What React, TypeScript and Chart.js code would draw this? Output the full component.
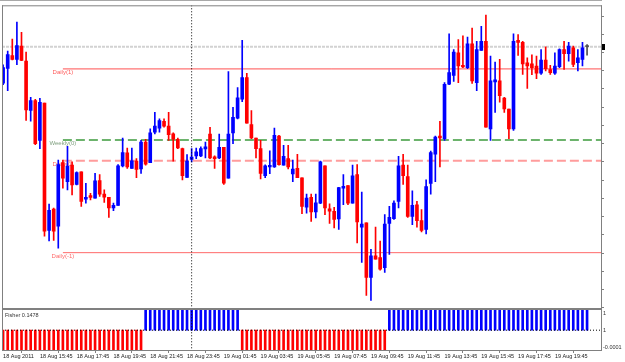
import React, { useEffect, useRef } from 'react';
import { Chart, registerables } from 'chart.js';

Chart.register(...registerables);

// ---------- data ----------
const timeLabels = [
  '18 Aug 2011', '18 Aug 15:45', '18 Aug 17:45', '18 Aug 19:45', '18 Aug 21:45', '18 Aug 23:45',
  '19 Aug 01:45', '19 Aug 03:45', '19 Aug 05:45', '19 Aug 07:45', '19 Aug 09:45', '19 Aug 11:45',
  '19 Aug 13:45', '19 Aug 15:45', '19 Aug 17:45', '19 Aug 19:45',
];
const timeTickIndex = [0, 8, 16, 24, 32, 40, 48, 56, 64, 72, 80, 88, 96, 104, 112, 120];

const opens = [
  1.43732, 1.43813, 1.43883, 1.43862, 1.43935, 1.43853, 1.43582, 1.43636, 1.43418, 1.43623,
  1.42924, 1.43041, 1.42947, 1.43296, 1.43192, 1.43282, 1.43177, 1.43246, 1.43095, 1.43115,
  1.43101, 1.43197, 1.43123, 1.43105, 1.43047, 1.43061, 1.43278, 1.43349, 1.43264, 1.43304,
  1.43261, 1.43409, 1.43295, 1.43463, 1.43485, 1.43523, 1.43496, 1.43454, 1.43424, 1.43373,
  1.43215, 1.43313, 1.43333, 1.43333, 1.43371, 1.43453, 1.43328, 1.43322, 1.43380, 1.43210,
  1.43459, 1.43540, 1.43644, 1.43762, 1.43505, 1.43431, 1.43373, 1.43224, 1.43273, 1.43273,
  1.43442, 1.43282, 1.43318, 1.43234, 1.43264, 1.43213, 1.43052, 1.43105, 1.43025, 1.43074,
  1.43279, 1.43043, 1.43029, 1.42987, 1.43156, 1.43170, 1.43074, 1.43231, 1.42942, 1.42965,
  1.42666, 1.42784, 1.42775, 1.42720, 1.42963, 1.42989, 1.43083, 1.43282, 1.43219, 1.43001,
  1.43065, 1.42978, 1.42929, 1.43182, 1.43342, 1.43442, 1.43427, 1.43726, 1.43775, 1.43898,
  1.43829, 1.43817, 1.43947, 1.43735, 1.43911, 1.43962, 1.43481, 1.43739, 1.43744, 1.43650,
  1.43590, 1.43481, 1.43967, 1.43956, 1.43844, 1.43838, 1.43826, 1.43786, 1.43859, 1.43807,
  1.43786, 1.43822, 1.43916, 1.43894, 1.43925, 1.43844, 1.43862, 1.43932,
];
const highs = [
  1.43833, 1.43908, 1.43974, 1.44067, 1.44011, 1.43902, 1.43654, 1.43643, 1.43648, 1.43623,
  1.43068, 1.43047, 1.43310, 1.43310, 1.43386, 1.43300, 1.43246, 1.43246, 1.43183, 1.43128,
  1.43237, 1.43231, 1.43147, 1.43105, 1.43074, 1.43285, 1.43431, 1.43376, 1.43376, 1.43318,
  1.43418, 1.43424, 1.43482, 1.43572, 1.43536, 1.43536, 1.43572, 1.43459, 1.43431, 1.43376,
  1.43340, 1.43373, 1.43376, 1.43382, 1.43409, 1.43489, 1.43333, 1.43453, 1.43380, 1.43795,
  1.43599, 1.43708, 1.43967, 1.43786, 1.43581, 1.43431, 1.43418, 1.43284, 1.43360, 1.43485,
  1.43446, 1.43391, 1.43391, 1.43310, 1.43342, 1.43213, 1.43123, 1.43123, 1.43123, 1.43304,
  1.43279, 1.43070, 1.43050, 1.43161, 1.43231, 1.43170, 1.43282, 1.43285, 1.43134, 1.42965,
  1.42820, 1.42942, 1.42866, 1.43011, 1.43056, 1.43087, 1.43331, 1.43342, 1.43282, 1.43141,
  1.43083, 1.43038, 1.43201, 1.43359, 1.43442, 1.43523, 1.43735, 1.44003, 1.43916, 1.43971,
  1.43992, 1.43985, 1.44034, 1.43962, 1.44043, 1.44106, 1.43880, 1.43848, 1.43862, 1.43654,
  1.43590, 1.44003, 1.43998, 1.43962, 1.43871, 1.43887, 1.43880, 1.43916, 1.43931, 1.43829,
  1.43898, 1.43920, 1.43962, 1.43956, 1.43935, 1.43916, 1.43956, 1.43943,
];
const lows = [
  1.43724, 1.43690, 1.43860, 1.43833, 1.43855, 1.43527, 1.43523, 1.43394, 1.43373, 1.42893,
  1.42866, 1.42869, 1.42826, 1.43156, 1.43146, 1.43119, 1.43174, 1.43056, 1.43074, 1.43092,
  1.43101, 1.43110, 1.43078, 1.42996, 1.43032, 1.43061, 1.43273, 1.43264, 1.43264, 1.43213,
  1.43237, 1.43282, 1.43295, 1.43454, 1.43463, 1.43491, 1.43418, 1.43304, 1.43373, 1.43201,
  1.43215, 1.43300, 1.43318, 1.43328, 1.43322, 1.43318, 1.43264, 1.43318, 1.43177, 1.43210,
  1.43400, 1.43536, 1.43630, 1.43512, 1.43427, 1.43322, 1.43206, 1.43213, 1.43235, 1.43269,
  1.43282, 1.43282, 1.43262, 1.43192, 1.43213, 1.43016, 1.43019, 1.42974, 1.42992, 1.43071,
  1.43011, 1.42962, 1.42938, 1.42929, 1.43065, 1.43065, 1.43074, 1.42856, 1.42748, 1.42567,
  1.42540, 1.42766, 1.42706, 1.42693, 1.42793, 1.42984, 1.43047, 1.43177, 1.42996, 1.42956,
  1.42942, 1.42916, 1.42905, 1.43123, 1.43192, 1.43273, 1.43418, 1.43724, 1.43741, 1.43735,
  1.43817, 1.43811, 1.43730, 1.43690, 1.43911, 1.43491, 1.43418, 1.43572, 1.43627, 1.43572,
  1.43427, 1.43473, 1.43884, 1.43780, 1.43703, 1.43779, 1.43757, 1.43780, 1.43799, 1.43780,
  1.43780, 1.43817, 1.43807, 1.43853, 1.43822, 1.43799, 1.43826, 1.43886,
];
const closes = [
  1.43817, 1.43889, 1.43862, 1.43938, 1.43856, 1.43585, 1.43636, 1.43400, 1.43627, 1.42920,
  1.43034, 1.42920, 1.43285, 1.43210, 1.43277, 1.43174, 1.43241, 1.43083, 1.43106, 1.43105,
  1.43196, 1.43123, 1.43106, 1.43047, 1.43061, 1.43278, 1.43351, 1.43273, 1.43306, 1.43259,
  1.43409, 1.43288, 1.43459, 1.43496, 1.43527, 1.43496, 1.43449, 1.43424, 1.43376, 1.43224,
  1.43304, 1.43326, 1.43355, 1.43373, 1.43382, 1.43322, 1.43318, 1.43380, 1.43183, 1.43453,
  1.43545, 1.43652, 1.43762, 1.43512, 1.43431, 1.43373, 1.43237, 1.43279, 1.43281, 1.43446,
  1.43285, 1.43331, 1.43273, 1.43261, 1.43213, 1.43056, 1.43101, 1.43025, 1.43076, 1.43300,
  1.43047, 1.43029, 1.42984, 1.43159, 1.43166, 1.43074, 1.43224, 1.42970, 1.42959, 1.42666,
  1.42784, 1.42766, 1.42712, 1.42959, 1.42996, 1.43074, 1.43279, 1.43224, 1.43001, 1.43061,
  1.42978, 1.42924, 1.43165, 1.43351, 1.43436, 1.43432, 1.43726, 1.43790, 1.43902, 1.43826,
  1.43821, 1.43947, 1.43744, 1.43916, 1.43962, 1.43491, 1.43744, 1.43750, 1.43663, 1.43590,
  1.43481, 1.43962, 1.43956, 1.43838, 1.43826, 1.43817, 1.43786, 1.43859, 1.43811, 1.43790,
  1.43826, 1.43916, 1.43894, 1.43935, 1.43835, 1.43871, 1.43925, 1.43932,
];

const fisher = [
  -1, -1, -1, -1, -1, -1, -1, -1, -1, -1, -1, -1, -1, -1, -1, -1,
  -1, -1, -1, -1, -1, -1, -1, -1, -1, -1, -1, -1, -1, -1, -1,
  1, 1, 1, 1, 1, 1, 1, 1, 1, 1, 1, 1, 1, 1, 1, 1, 1, 1, 1, 1, 1,
  -1, -1, -1, -1, -1, -1, -1, -1, -1, -1, -1, -1, -1, -1, -1, -1,
  -1, -1, -1, -1, -1, -1, -1, -1, -1, -1, -1, -1, -1, -1, -1, -1,
  1, 1, 1, 1, 1, 1, 1, 1, 1, 1, 1, 1, 1, 1, 1, 1, 1, 1, 1, 1, 1, 1,
  1, 1, 1, 1, 1, 1, 1, 1, 1, 1, 1, 1, 1, 1, 1, 1, 1, 1, 1, 1, 1, 1,
];
const fisherTitle = 'Fisher 0.1478';
const fisherTickValues = [0.85, 0, -0.85];
const fisherTickLabels = ['1', '1', '-0.0001'];

const levelNames = ['Daily(1)', 'Weekly(0)', 'Daily(0)', 'Daily(-1)'];
const levelPrices = [1.4381, 1.4342, 1.43306, 1.42802];
const levelStartIndex = 13;
const bidPrice = 1.43932;
const separatorIndex = 41;
const priceTicks = [
  1.425, 1.426, 1.427, 1.428, 1.429, 1.43, 1.431, 1.432, 1.433,
  1.434, 1.435, 1.436, 1.437, 1.438, 1.439, 1.44, 1.441,
];

// ---------- styles / layout ----------
const FONT = '"Liberation Sans", Arial, sans-serif';
const UP = '#0000ff';
const DOWN = '#ff0000';
const FLAT = '#505050';
const X_MIN = -0.24;
const X_MAX = 130.03;
const Y_MIN = 1.42268;
const Y_MAX = 1.44159;
const F_MIN = -1;
const F_MAX = 16.4;
const PANE_SPLIT = 308;
const LEVEL_STYLE = [
  { color: '#ff5050', text: '#ff5a5a', width: 1, dash: [] as number[] },
  { color: '#3c9a3c', text: '#7f9f7f', width: 1.4, dash: [9, 4] },
  { color: '#ff9c9c', text: '#ff6060', width: 2, dash: [9, 4] },
  { color: '#ff6a6a', text: '#ff6a6a', width: 1, dash: [] as number[] },
];

const decor = {
  id: 'decor',
  beforeDraw(chart: any) {
    const { ctx, width, height } = chart;
    ctx.save();
    ctx.fillStyle = '#ffffff';
    ctx.fillRect(0, 0, width, height);
    ctx.restore();
  },
  beforeDatasetsDraw(chart: any) {
    const { ctx } = chart;
    const x = chart.scales.x;
    const y = chart.scales.y;
    ctx.save();
    ctx.font = `6px ${FONT}`;
    ctx.textAlign = 'center';
    ctx.textBaseline = 'top';
    levelNames.forEach((name, k) => {
      ctx.fillStyle = LEVEL_STYLE[k].text;
      ctx.fillText(name, x.getPixelForValue(levelStartIndex), y.getPixelForValue(levelPrices[k]) + 0.5);
    });
    ctx.restore();
  },
  afterDatasetsDraw(chart: any) {
    const { ctx, chartArea } = chart;
    const { left, right, top, bottom } = chartArea;
    const y = chart.scales.y;
    ctx.save();
    ctx.fillStyle = '#a8a8a8';
    ctx.fillRect(0, 0, right + 1, 1);
    ctx.fillStyle = '#808080';
    ctx.fillRect(left, top, right - left + 1, 1);
    ctx.fillRect(left, top, 1, bottom - top + 1);
    ctx.fillRect(right, top, 1, bottom - top + 1);
    ctx.fillRect(left, PANE_SPLIT, right - left + 1, 2);
    ctx.fillRect(left, bottom, right - left + 1, 1);
    // bid marker
    ctx.fillStyle = '#000000';
    const by = y.getPixelForValue(bidPrice);
    ctx.fillRect(right + 1, Math.round(by) - 3, 3, 6);
    // indicator title
    ctx.font = `5.5px ${FONT}`;
    ctx.textAlign = 'left';
    ctx.textBaseline = 'top';
    ctx.fillStyle = '#333333';
    ctx.fillText(fisherTitle, 5, PANE_SPLIT + 4.5);
    ctx.restore();
  },
};

export default function App() {
  const ref = useRef<HTMLCanvasElement>(null);

  useEffect(() => {
    document.body.style.margin = '0';
    const canvas = ref.current!;
    const idx = opens.map((_, i) => i);
    const candleColors = idx.map((i) =>
      closes[i] > opens[i] ? UP : closes[i] < opens[i] ? DOWN : FLAT
    );
    const fisherColors = fisher.map((v) => (v >= 0 ? UP : DOWN));

    const levelSets = levelNames.map((name, k) => ({
      type: 'line' as const,
      label: name,
      data: [
        { x: levelStartIndex, y: levelPrices[k] },
        { x: X_MAX, y: levelPrices[k] },
      ],
      borderColor: LEVEL_STYLE[k].color,
      borderWidth: LEVEL_STYLE[k].width,
      borderDash: LEVEL_STYLE[k].dash,
      pointRadius: 0,
      fill: false,
      yAxisID: 'y',
      order: 3,
    }));

    const chart = new Chart(canvas, {
      type: 'bar',
      data: {
        datasets: [
          {
            type: 'bar',
            label: 'body',
            data: idx.map((i) => ({ x: i, y: [opens[i], closes[i]] })) as any,
            backgroundColor: candleColors,
            borderWidth: 0,
            barThickness: 3,
            minBarLength: 1,
            grouped: false,
            yAxisID: 'y',
            order: 1,
          },
          {
            type: 'bar',
            label: 'wick',
            data: idx.map((i) => ({ x: i, y: [lows[i], highs[i]] })) as any,
            backgroundColor: candleColors,
            borderWidth: 0,
            barThickness: 1,
            grouped: false,
            yAxisID: 'y',
            order: 2,
          },
          {
            type: 'bar',
            label: 'fisher',
            data: idx.map((i) => ({ x: i, y: fisher[i] })) as any,
            backgroundColor: fisherColors,
            borderWidth: 0,
            barThickness: 2,
            grouped: false,
            yAxisID: 'y2',
            order: 2,
          },
          {
            type: 'line',
            label: 'bid',
            data: [
              { x: X_MIN, y: bidPrice },
              { x: X_MAX, y: bidPrice },
            ],
            borderColor: '#d2d2d2',
            borderWidth: 2,
            borderDash: [3, 1],
            pointRadius: 0,
            yAxisID: 'y',
            order: 4,
          },
          ...levelSets,
          {
            type: 'line',
            label: 'separator',
            data: [
              { x: separatorIndex, y: Y_MAX },
              { x: separatorIndex, y: Y_MIN },
            ],
            borderColor: '#000000',
            borderWidth: 1,
            borderDash: [1, 2],
            pointRadius: 0,
            yAxisID: 'y',
            order: 0,
          },
          {
            type: 'line',
            label: 'zero',
            data: [
              { x: X_MIN, y: 0 },
              { x: X_MAX, y: 0 },
            ],
            borderColor: '#000000',
            borderWidth: 1,
            borderDash: [1, 2],
            pointRadius: 0,
            yAxisID: 'y2',
            order: 0,
          },
        ] as any,
      },
      options: {
        animation: false,
        responsive: false,
        devicePixelRatio: 1,
        layout: { padding: { left: 2, top: 2, right: 0, bottom: 0 } },
        plugins: { legend: { display: false }, tooltip: { enabled: false } },
        scales: {
          x: {
            type: 'linear',
            min: X_MIN,
            max: X_MAX,
            offset: false,
            afterBuildTicks: (s: any) => {
              s.ticks = timeTickIndex.map((v) => ({ value: v }));
            },
            afterFit: (s: any) => {
              s.height = 12;
            },
            ticks: {
              autoSkip: false,
              maxRotation: 0,
              minRotation: 0,
              align: 'start',
              padding: 0.5,
              color: '#1a1a1a',
              font: { family: FONT, size: 5.5 },
              callback: (_v: any, i: number) => timeLabels[i],
            },
            grid: { display: true, drawOnChartArea: false, drawTicks: true, tickLength: 3, color: '#808080' },
            border: { display: false },
          },
          y: {
            type: 'linear',
            position: 'right',
            weight: 0,
            min: Y_MIN,
            max: Y_MAX,
            afterBuildTicks: (s: any) => {
              s.ticks = priceTicks.map((v) => ({ value: v }));
            },
            afterFit: (s: any) => {
              s.width = 0;
            },
            ticks: { display: false },
            grid: { display: true, drawOnChartArea: false, drawTicks: true, tickLength: 3, color: '#808080' },
            border: { display: false },
          },
          y2: {
            type: 'linear',
            position: 'right',
            weight: 1,
            min: F_MIN,
            max: F_MAX,
            afterBuildTicks: (s: any) => {
              s.ticks = fisherTickValues.map((v) => ({ value: v }));
            },
            afterFit: (s: any) => {
              s.width = 24;
            },
            ticks: {
              padding: 2,
              color: '#333333',
              font: { family: FONT, size: 5.5 },
              callback: (_v: any, i: number) => fisherTickLabels[i],
            },
            grid: { display: false, drawTicks: false },
            border: { display: false },
          },
        },
      } as any,
      plugins: [decor],
    });
    return () => chart.destroy();
  }, []);

  return <canvas ref={ref} width={625} height={362} style={{ display: 'block' }} />;
}
